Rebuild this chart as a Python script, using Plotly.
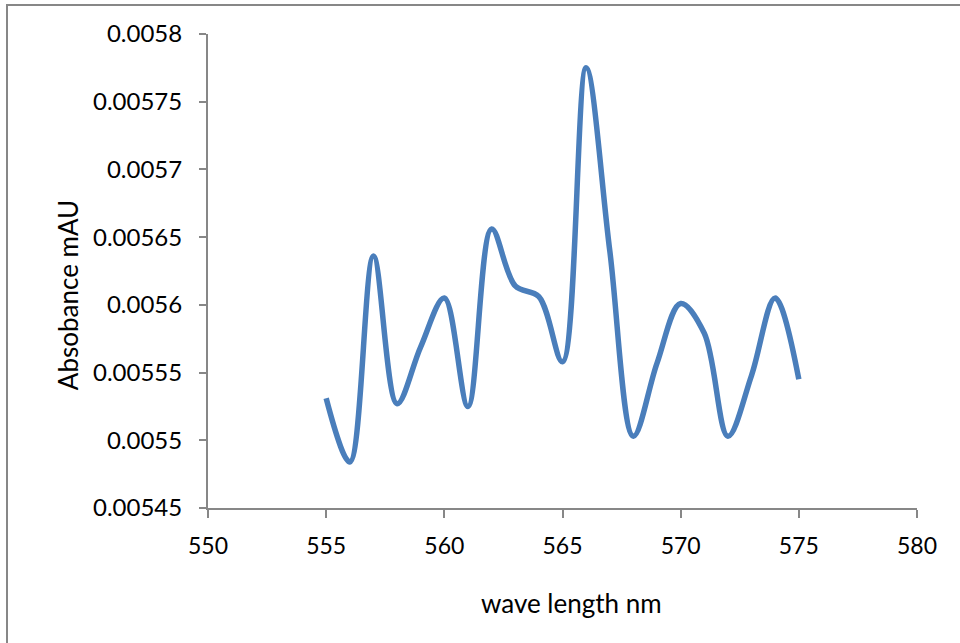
import plotly.graph_objects as go

wavelength = [555, 556, 557, 558, 559, 560, 561, 562, 563, 564, 565,
              566, 567, 568, 569, 570, 571, 572, 573, 574, 575]
absorbance = [0.005531, 0.005484, 0.005636, 0.005527, 0.005569, 0.005605,
              0.005525, 0.005656, 0.005614, 0.005606, 0.005558, 0.005775,
              0.005640, 0.005503, 0.005557, 0.005601, 0.005579, 0.005503,
              0.005548, 0.005605, 0.005545]
y_tickvals = [0.00545, 0.0055, 0.00555, 0.0056, 0.00565, 0.0057, 0.00575, 0.0058]
y_ticktext = ["0.00545", "0.0055", "0.00555", "0.0056", "0.00565", "0.0057", "0.00575", "0.0058"]
x_tickvals = [550, 555, 560, 565, 570, 575, 580]

FONT = "Lato, 'Open Sans', sans-serif"
AXIS = "#878787"

fig = go.Figure()
fig.add_trace(go.Scatter(
    x=wavelength, y=absorbance, mode="lines",
    line=dict(color="#4A7EBB", width=5.5, shape="spline", smoothing=1.0),
    showlegend=False, hoverinfo="x+y",
))

fig.update_layout(
    width=960, height=643,
    margin=dict(l=208, r=43, t=34, b=135),
    paper_bgcolor="white", plot_bgcolor="white",
    font=dict(family=FONT, size=23, color="#000000"),
    xaxis=dict(range=[550, 580], tickvals=x_tickvals, showgrid=False, zeroline=False,
               showline=True, linecolor=AXIS, linewidth=2, ticks="outside",
               ticklen=8, tickwidth=2, tickcolor=AXIS, ticklabelstandoff=8,
               tickfont=dict(family=FONT, size=23)),
    yaxis=dict(range=[0.00545, 0.0058], tickvals=y_tickvals, ticktext=y_ticktext,
               showgrid=False, zeroline=False, showline=True, linecolor=AXIS,
               linewidth=2, ticks="outside", ticklen=7, tickwidth=2, tickcolor=AXIS,
               ticklabelstandoff=12, tickfont=dict(family=FONT, size=24)),
    annotations=[
        dict(text="Absobance mAU", xref="paper", yref="paper", x=-0.1975, y=0.449,
             xanchor="center", yanchor="middle", textangle=-90, showarrow=False,
             font=dict(family=FONT, size=26)),
        dict(text="wave length nm", xref="paper", yref="paper", x=0.512, y=-0.2004,
             xanchor="center", yanchor="middle", showarrow=False,
             font=dict(family=FONT, size=26)),
    ],
    shapes=[
        dict(type="rect", xref="paper", yref="paper", x0=-0.2835, x1=1.2,
             y0=-0.5, y1=1.0612, line=dict(color=AXIS, width=2), fillcolor="rgba(0,0,0,0)",
             layer="below"),
    ],
)

fig.write_html("out.html", config={"displayModeBar": False},
               post_script="document.body.style.margin='0';document.body.style.overflow='hidden';")
